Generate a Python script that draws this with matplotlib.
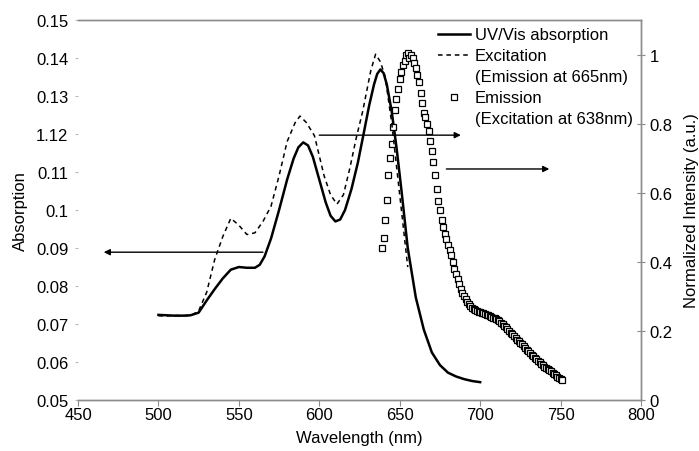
import numpy as np
import matplotlib
matplotlib.use("Agg")
import matplotlib.pyplot as plt
from matplotlib.lines import Line2D

plt.rcParams['font.family'] = ['Liberation Sans', 'DejaVu Sans']

# UV/Vis absorption (left axis)
abs_wl = [500, 505, 510, 515, 520, 525, 530, 535, 540, 545, 550, 555, 560, 563,
          566, 570, 575, 580, 584, 587, 590, 593, 596, 600, 604, 607, 610, 613,
          616, 620, 624, 628, 631, 634, 636, 638, 640, 642, 645, 648, 651, 655,
          660, 665, 670, 675, 680, 685, 690, 695, 700]
abs_val = [0.0724, 0.0723, 0.0722, 0.0722, 0.0723, 0.0730, 0.0762, 0.0792, 0.0820,
           0.0843, 0.0850, 0.0848, 0.0848, 0.0856, 0.0878, 0.0925, 0.1000, 0.1080,
           0.1135, 0.1165, 0.1178, 0.1170, 0.1140, 0.1080, 0.1020, 0.0985, 0.0970,
           0.0975, 0.1000, 0.1055, 0.1125, 0.1210, 0.1275, 0.1330, 0.1358, 0.1370,
           0.1360, 0.1330, 0.1260, 0.1165, 0.1055, 0.0900, 0.0770, 0.0685, 0.0625,
           0.0592, 0.0572, 0.0562, 0.0555, 0.0550, 0.0547]

# Excitation (emission at 665 nm), right axis
exc_wl = [500, 505, 510, 515, 520, 525, 530, 535, 540, 545, 550, 555, 560, 565,
          570, 575, 580, 585, 588, 592, 597, 603, 607, 611, 615, 619, 623, 627,
          632, 635, 638, 641, 645, 650, 655]
exc_val = [0.244, 0.243, 0.245, 0.244, 0.244, 0.258, 0.312, 0.407, 0.473, 0.526,
           0.506, 0.479, 0.484, 0.517, 0.561, 0.649, 0.748, 0.803, 0.822, 0.803,
           0.765, 0.649, 0.594, 0.567, 0.594, 0.671, 0.759, 0.836, 0.953, 1.001,
           0.979, 0.935, 0.803, 0.594, 0.385]

# Emission (excitation at 638 nm), right axis
em_wl = list(range(639, 752))
em_val = [0.44, 0.47, 0.52, 0.58, 0.65, 0.70, 0.74, 0.79, 0.84, 0.87,
          0.90, 0.93, 0.95, 0.97, 0.98, 1.00, 1.005, 0.99, 1.00, 0.99,
          0.975, 0.96, 0.94, 0.92, 0.89, 0.86, 0.83, 0.82, 0.80, 0.78,
          0.75, 0.72, 0.69, 0.65, 0.61, 0.575, 0.55, 0.52, 0.50, 0.48,
          0.465, 0.45, 0.435, 0.42, 0.40, 0.38, 0.365, 0.35, 0.335, 0.32,
          0.31, 0.30, 0.292, 0.285, 0.278, 0.272, 0.267, 0.263, 0.26, 0.258,
          0.256, 0.255, 0.253, 0.251, 0.249, 0.247, 0.245, 0.243, 0.241, 0.238,
          0.236, 0.234, 0.231, 0.228, 0.224, 0.22, 0.215, 0.21, 0.205, 0.20,
          0.195, 0.19, 0.185, 0.18, 0.175, 0.17, 0.166, 0.161, 0.156, 0.151,
          0.146, 0.141, 0.136, 0.131, 0.127, 0.122, 0.118, 0.113, 0.109, 0.104,
          0.10, 0.097, 0.094, 0.090, 0.086, 0.083, 0.079, 0.076, 0.072, 0.068,
          0.065, 0.062, 0.058]

# arrows (tail x, head x, y) in left-axis units
arrows = [(565, 466, 0.0889), (600, 688, 0.1197), (679, 743, 0.1108)]

left_ticks = [0.05, 0.06, 0.07, 0.08, 0.09, 0.10, 0.11, 0.12, 0.13, 0.14, 0.15]
left_labels = ['0.05', '0.06', '0.07', '0.08', '0.09', '0.1', '0.11', '1.12',
               '0.13', '0.14', '0.15']
right_ticks = [0, 0.2, 0.4, 0.6, 0.8, 1]
right_labels = ['0', '0.2', '0.4', '0.6', '0.8', '1']
x_ticks = [450, 500, 550, 600, 650, 700, 750, 800]

fs = 12
gray = '#8c8c8c'

fig = plt.figure(figsize=(6.99, 4.52), dpi=100)
ax = fig.add_axes([0.1116, 0.1128, 0.8054, 0.8407])
ax2 = ax.twinx()

ax.plot(abs_wl, abs_val, color='black', lw=1.8, zorder=3)
ax2.plot(exc_wl, exc_val, color='black', lw=1.1, linestyle=(0, (3, 2.5)), zorder=3)
ax2.plot(em_wl, em_val, linestyle='none', marker='s', ms=4.0, mfc='white',
         mec='black', mew=0.9, zorder=2)

for x0, x1, y in arrows:
    ax.annotate('', xy=(x1, y), xytext=(x0, y),
                arrowprops=dict(arrowstyle='-|>', color='black', lw=1.0,
                                mutation_scale=9, shrinkA=0, shrinkB=0))

ax.set_xlim(450, 800)
ax.set_ylim(0.05, 0.15)
ax2.set_ylim(0, 1.10)
ax.set_xticks(x_ticks)
ax.set_xticklabels([str(t) for t in x_ticks], fontsize=fs)
ax.set_yticks(left_ticks)
ax.set_yticklabels(left_labels, fontsize=fs)
ax2.set_yticks(right_ticks)
ax2.set_yticklabels(right_labels, fontsize=fs)

for a in (ax, ax2):
    a.spines['left'].set_visible(False)
    for s in ('top', 'right', 'bottom'):
        a.spines[s].set_color(gray)
        a.spines[s].set_linewidth(1.0)
ax.tick_params(axis='y', direction='out', length=2, color='#bbbbbb', pad=5)
ax.tick_params(axis='x', direction='out', length=4, color=gray, pad=1)
ax2.tick_params(axis='y', direction='inout', length=6, color=gray, pad=3)

ax.set_xlabel('Wavelength (nm)', fontsize=fs, labelpad=6)
ax.set_ylabel('Absorption', fontsize=fs, labelpad=6)
ax2.set_ylabel('Normalized Intensity (a.u.)', fontsize=fs, labelpad=8)

blank = Line2D([], [], linestyle='none')
handles = [Line2D([], [], color='black', lw=1.8),
           Line2D([], [], color='black', lw=1.1, linestyle=(0, (3, 2.5))),
           blank,
           Line2D([], [], linestyle='none', marker='s', ms=4.0, mfc='white',
                  mec='black', mew=0.9),
           blank]
labels = ['UV/Vis absorption', 'Excitation', '(Emission at 665nm)', 'Emission',
          '(Excitation at 638nm)']
ax2.legend(handles, labels, loc='upper left', bbox_to_anchor=(0.627, 0.937),
           bbox_transform=fig.transFigure, frameon=False, fontsize=fs,
           handlelength=1.9, handletextpad=0.3, labelspacing=0.36,
           borderpad=0, borderaxespad=0)

fig.savefig('out.png', dpi=100)
